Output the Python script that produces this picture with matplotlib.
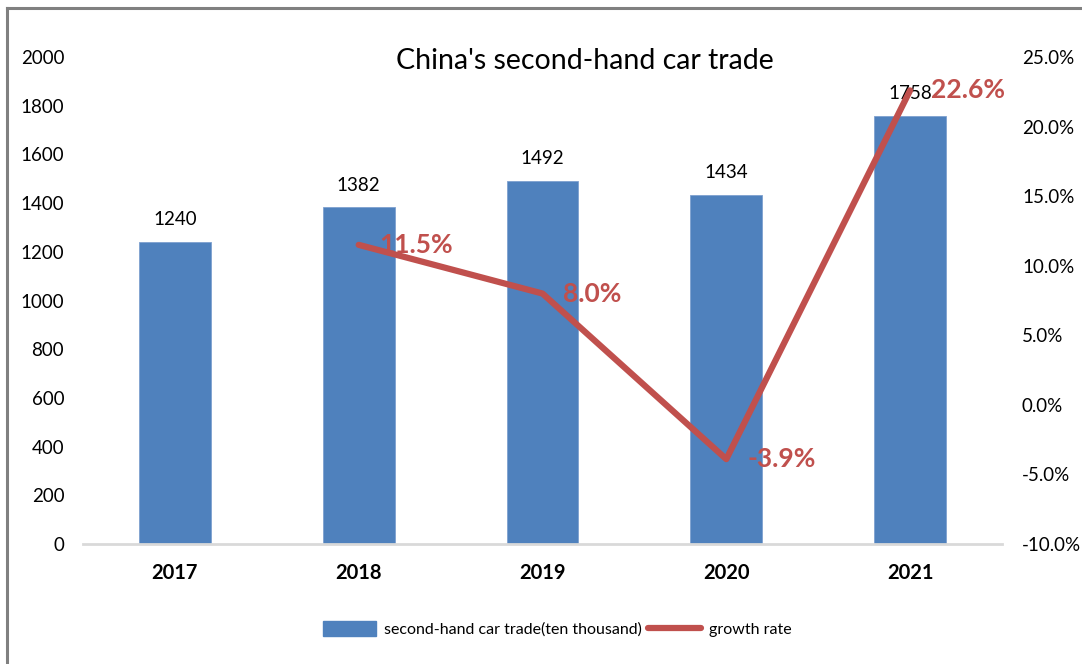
import matplotlib
matplotlib.use("Agg")
import matplotlib.pyplot as plt
from matplotlib.lines import Line2D
from matplotlib.patches import Patch

plt.rcParams['font.family'] = ['Lato', 'DejaVu Sans']

years = ["2017", "2018", "2019", "2020", "2021"]
trade = [1240, 1382, 1492, 1434, 1758]
growth_years = ["2018", "2019", "2020", "2021"]
growth = [11.5, 8.0, -3.9, 22.6]
left_ticks = [0, 200, 400, 600, 800, 1000, 1200, 1400, 1600, 1800, 2000]
right_ticks = [-10, -5, 0, 5, 10, 15, 20, 25]

bar_color = "#4F81BD"
line_color = "#C0504D"

fig = plt.figure(figsize=(10.82, 6.64), dpi=100)
ax = fig.add_axes([83/1082, 1-544/664, 919/1082, 487/664])
ax2 = ax.twinx()

x = list(range(len(years)))
ax.bar(x, trade, width=0.39, color=bar_color, edgecolor="#7EA0CF", linewidth=0.6, zorder=2)
for xi, v in zip(x, trade):
    ax.annotate(str(v), (xi, v), xytext=(0, 10), textcoords="offset points",
                ha="center", va="bottom", fontsize=13.5, color="black", zorder=5)

ax.set_xlim(-0.5, 4.5)
ax.set_ylim(0, 2000)
ax.set_yticks(left_ticks)
ax.set_xticks(x)
ax.set_xticklabels(years, fontsize=14.5, fontweight="bold")
ax.tick_params(axis="y", length=0, labelsize=13.5, pad=13.5)
ax.tick_params(axis="x", length=0, pad=14)
for s in ["left", "right", "top"]:
    ax.spines[s].set_visible(False)
ax.spines["bottom"].set_color("#D9D9D9")
ax.spines["bottom"].set_linewidth(2)

gx = [years.index(y) for y in growth_years]
ax2.plot(gx, growth, color=line_color, linewidth=4.5, solid_capstyle="round", zorder=3)
for xi, v in zip(gx, growth):
    ax2.annotate(f"{v:.1f}%", (xi, v), xytext=(15, 0), textcoords="offset points",
                 ha="left", va="center", fontsize=19, fontweight="bold", color=line_color)
ax2.set_ylim(-10, 25)
ax2.set_yticks(right_ticks)
ax2.set_yticklabels([f"{t:.1f}%" for t in right_ticks])
ax2.tick_params(axis="y", length=0, labelsize=13.5, pad=14.4)
for s in ["left", "right", "top", "bottom"]:
    ax2.spines[s].set_visible(False)

fig.text(585/1082, 1-61/664, "China's second-hand car trade", ha="center", va="center", fontsize=20.5)

handles = [Patch(facecolor=bar_color, edgecolor=bar_color),
           Line2D([0], [0], color=line_color, linewidth=4.5, solid_capstyle="round")]
labels = ["second-hand car trade(ten thousand)", "growth rate"]
fig.legend(handles, labels, loc="center", bbox_to_anchor=(557/1082, 1-629/664), ncol=2,
           frameon=False, fontsize=11.5, handlelength=3.3, handleheight=1.1,
           columnspacing=0.4, handletextpad=0.5)

fig.add_artist(Line2D([7/1082, 7/1082], [0, 1-8/664], transform=fig.transFigure, color="#808080", linewidth=2.2))
fig.add_artist(Line2D([7/1082, 1], [1-8/664, 1-8/664], transform=fig.transFigure, color="#808080", linewidth=2.2))

fig.savefig("out.png", dpi=100)
